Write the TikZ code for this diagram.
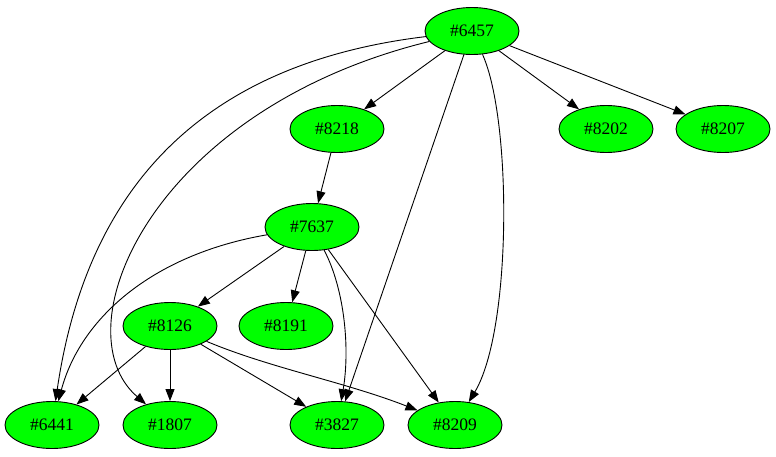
\documentclass[tikz,border=0pt]{standalone}
\usepackage{fontspec}
\setmainfont{Liberation Serif}
\usepackage{tikz}
\usetikzlibrary{shapes.geometric, arrows.meta}
\definecolor{cNode}{HTML}{00FF00}
\tikzset{
  gnode/.style={
    ellipse, draw=black, fill=cNode, line width=0.9pt,
    minimum width=94pt, minimum height=47pt, inner sep=0pt,
    font=\fontsize{17.5}{20}\selectfont
  },
  edge/.style={-{Triangle[length=12pt, width=9pt]}, line width=0.9pt, black},
}
\begin{document}
\begin{tikzpicture}[x=1pt, y=-1pt]
  \useasboundingbox (0,0) rectangle (776,456);

  % Nodes
  \node[gnode] (n6457) at (472,31)  {\#6457};
  \node[gnode] (n8218) at (337,129) {\#8218};
  \node[gnode] (n8202) at (606,129) {\#8202};
  \node[gnode] (n8207) at (723,129) {\#8207};
  \node[gnode] (n7637) at (312,227) {\#7637};
  \node[gnode] (n8126) at (170,326) {\#8126};
  \node[gnode] (n8191) at (286,326) {\#8191};
  \node[gnode] (n6441) at (52,425)  {\#6441};
  \node[gnode] (n1807) at (170,425) {\#1807};
  \node[gnode] (n3827) at (337,425) {\#3827};
  \node[gnode] (n8209) at (455,425) {\#8209};

  % Edges from #6457
  \draw[edge] (n6457) -- (n8218);
  \draw[edge] (n6457) -- (n8202);
  \draw[edge] (n6457) -- (n8207);
  \draw[edge] (n6457) -- (n3827);
  \draw[edge] (n6457) .. controls (190,65) and (85,200) .. (n6441);
  \draw[edge] (n6457) .. controls (150,110) and (60,330) .. (n1807);
  \draw[edge] (n6457) .. controls (512,120) and (512,330) .. (n8209);

  % Edges from #8218 and #7637
  \draw[edge] (n8218) -- (n7637);
  \draw[edge] (n7637) -- (n8126);
  \draw[edge] (n7637) -- (n8191);
  \draw[edge] (n7637) -- (n8209);
  \draw[edge] (n7637) .. controls (150,255) and (80,320) .. (n6441);
  \draw[edge] (n7637) .. controls (345,290) and (350,350) .. (n3827);

  % Edges from #8126
  \draw[edge] (n8126) -- (n6441);
  \draw[edge] (n8126) -- (n1807);
  \draw[edge] (n8126) -- (n3827);
  \draw[edge] (n8126) .. controls (270,368) and (345,382) .. (n8209);

\end{tikzpicture}
\end{document}
